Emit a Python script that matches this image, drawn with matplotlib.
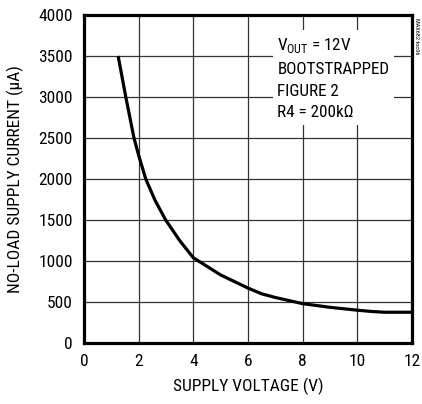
import matplotlib
matplotlib.use('Agg')
import matplotlib.pyplot as plt

plt.rcParams['font.family'] = ['Roboto Condensed', 'DejaVu Sans']
plt.rcParams['mathtext.fontset'] = 'custom'
plt.rcParams['mathtext.rm'] = 'Roboto Condensed'

# supply voltage (V) vs no-load supply current (uA)
supply_v = [1.25, 1.53, 1.83, 2.0, 2.26, 2.6, 2.99, 3.5, 4.0, 5.0, 6.0, 6.5, 7.0, 8.0, 9.0, 10.0, 10.5, 11.0, 12.0]
current_ua = [3500, 3000, 2500, 2290, 2000, 1740, 1500, 1250, 1040, 830, 670, 600, 555, 480, 435, 400, 385, 375, 375]

x_ticks = [0, 2, 4, 6, 8, 10, 12]
y_ticks = [0, 500, 1000, 1500, 2000, 2500, 3000, 3500, 4000]

fig = plt.figure(figsize=(4.22, 4.04), dpi=100)
ax = fig.add_axes([0.199, 0.151, 0.777, 0.812])

ax.plot(supply_v, current_ua, color='black', linewidth=2.3, solid_capstyle='butt', zorder=3)

ax.set_xlim(0, 12)
ax.set_ylim(0, 4000)
ax.set_xticks(x_ticks)
ax.set_yticks(y_ticks)
ax.grid(True, color='#333333', linewidth=0.9)
ax.tick_params(length=0, labelsize=12.5, pad=8)
for s in ax.spines.values():
    s.set_linewidth(2.3)

ax.set_xlabel('SUPPLY VOLTAGE (V)', fontsize=12.5, labelpad=6)
ax.set_ylabel('NO-LOAD SUPPLY CURRENT (μA)', fontsize=12.5, labelpad=10)

# text block with white box that cuts the grid
ax.text(0.59, 0.937, 'V$_{\\mathregular{OUT}}$ = 12V\nBOOTSTRAPPED\nFIGURE 2\nR4 = 200kΩ',
        transform=ax.transAxes, ha='left', va='top', fontsize=12.3, linespacing=1.58,
        bbox=dict(facecolor='white', edgecolor='none', pad=3), zorder=4)

fig.text(0.987, 0.955, 'MAX682 toc06', rotation=270, fontsize=4.5, ha='center', va='top')

fig.savefig('out.png', dpi=100)
